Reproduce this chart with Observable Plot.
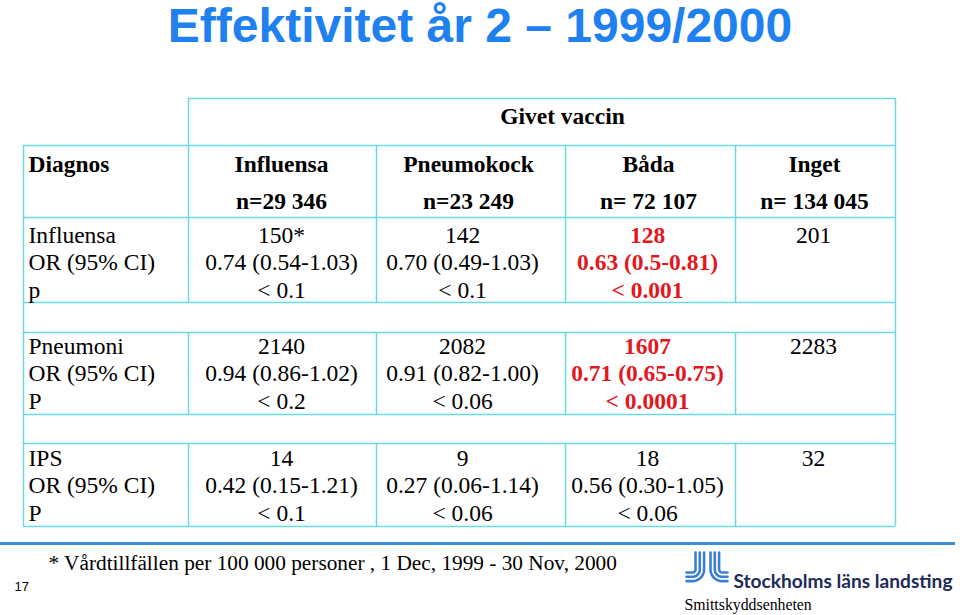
<!DOCTYPE html>
<html><head><meta charset="utf-8">
<script src="https://cdn.jsdelivr.net/npm/d3@7"></script>
<script src="https://cdn.jsdelivr.net/npm/@observablehq/plot@0.6"></script>
<style>
html,body{margin:0;padding:0;background:#fff}
body{width:960px;height:615px;overflow:hidden}
#title{height:60px;line-height:52px;text-align:center;font-family:"Liberation Sans",Arial,sans-serif;font-weight:bold;font-size:48px;color:#1f80ef;white-space:nowrap;margin:0}
#chart svg{display:block}
</style></head><body>
<h1 id="title">Effektivitet år 2 – 1999/2000</h1>
<div id="chart"></div>
<script>
// ---- data ----
const diagnoses = ["Influensa", "Pneumoni", "IPS"];
const pLabels = ["p", "P", "P"];
const orLabel = "OR (95% CI)";
const groups = ["Influensa", "Pneumokock", "Båda", "Inget"];
const groupN = ["n=29 346", "n=23 249", "n= 72 107", "n= 134 045"];
const rates = [["150*", "142", "128", "201"], ["2140", "2082", "1607", "2283"], ["14", "9", "18", "32"]];
const oddsRatios = [["0.74 (0.54-1.03)", "0.70 (0.49-1.03)", "0.63 (0.5-0.81)", ""],
                    ["0.94 (0.86-1.02)", "0.91 (0.82-1.00)", "0.71 (0.65-0.75)", ""],
                    ["0.42 (0.15-1.21)", "0.27 (0.06-1.14)", "0.56 (0.30-1.05)", ""]];
const pValues = [["< 0.1", "< 0.1", "< 0.001", ""], ["< 0.2", "< 0.06", "< 0.0001", ""], ["< 0.1", "< 0.06", "< 0.06", ""]];
const highlighted = [[false, false, true, false], [false, false, true, false], [false, false, false, false]];
const spanHeader = "Givet vaccin";
const firstHeader = "Diagnos";
const footnote = "* Vårdtillfällen per 100 000 personer , 1 Dec, 1999 - 30 Nov, 2000";
const pageNumber = "17";
const orgName = "Stockholms läns landsting";
const unitName = "Smittskyddsenheten";

// ---- layout (page pixels) ----
const colEdges = [23, 188, 376, 565, 735, 895];
const headCenters = [281, 468, 648, 814];
const cellCenters = [281, 462, 647, 813];
const tableTop = 98, headTop = 145, headBottom = 217, tableBottom = 526;
const blockTops = [217, 332, 443], blockBottoms = [302, 414, 526];
const blockBaselines = [242, 353, 465], lineStep = 27.5;
const labelX = 28;
const serif = "Liberation Serif, Times New Roman, serif";
const sans = "Liberation Sans, Arial, sans-serif";
const gridColor = "#6dd9dc";
const red = "#e3171e";

// grid segments
const hSegs = [{y: tableTop, x1: colEdges[1], x2: colEdges[5]}];
[headTop, headBottom, ...blockBottoms, ...blockTops.slice(1)].forEach(y => hSegs.push({y, x1: colEdges[0], x2: colEdges[5]}));
const vSegs = [{x: colEdges[0], y1: headTop, y2: tableBottom}, {x: colEdges[5], y1: tableTop, y2: tableBottom},
               {x: colEdges[1], y1: tableTop, y2: headTop}];
colEdges.slice(1, 5).forEach(x => {
  vSegs.push({x, y1: headTop, y2: headBottom});
  blockTops.forEach((t, i) => vSegs.push({x, y1: t, y2: blockBottoms[i]}));
});

// texts
const headerTexts = [];
groups.forEach((g, j) => {
  headerTexts.push({text: g, x: headCenters[j], y: 171});
  headerTexts.push({text: groupN[j], x: headCenters[j], y: 208});
});
const labelTexts = [];
diagnoses.forEach((d, i) => {
  [d, orLabel, pLabels[i]].forEach((t, k) => labelTexts.push({text: t, x: labelX, y: blockBaselines[i] + k * lineStep}));
});
const cellTexts = [];
diagnoses.forEach((d, i) => groups.forEach((g, j) => {
  [rates[i][j], oddsRatios[i][j], pValues[i][j]].forEach((t, k) => {
    if (t) cellTexts.push({text: t, x: cellCenters[j], y: blockBaselines[i] + k * lineStep, hl: highlighted[i][j]});
  });
}));

// logo strokes (nested quarter arcs)
const logo = [];
const arcPts = (xv, yh, r, dir, xEnd, id) => {
  const cx = xv - dir * r, cy = yh - r;
  logo.push({id, x: xv, y: 552});
  for (let a = 0; a <= 90; a += 10) {
    const t = a * Math.PI / 180;
    logo.push({id, x: cx + dir * r * Math.cos(t), y: cy + r * Math.sin(t)});
  }
  logo.push({id, x: xEnd, y: yh});
};
[0, 1, 2].forEach(k => {
  arcPts(695 + 4.3 * k, 572 + 4.3 * k, 3 + 4.3 * k, 1, 686, "L" + k);
  arcPts(718.6 - 4.3 * k, 572 + 4.3 * k, 3 + 4.3 * k, -1, 727, "R" + k);
});

const chart = Plot.plot({
  width: 960, height: 555, margin: 0,
  x: {domain: [0, 960], range: [0, 960], axis: null},
  y: {domain: [60, 615], range: [0, 555], axis: null},
  style: {background: "#fff", overflow: "visible"},
  marks: [
    Plot.ruleY(hSegs, {y: "y", x1: "x1", x2: "x2", stroke: gridColor, strokeWidth: 1.5}),
    Plot.ruleX(vSegs, {x: "x", y1: "y1", y2: "y2", stroke: gridColor, strokeWidth: 1.5}),
    Plot.text([spanHeader], {x: [562], y: [123], text: d => d, fontFamily: serif, fontWeight: "bold", fontSize: 23.5, fill: "#000", lineAnchor: "bottom"}),
    Plot.text([firstHeader], {x: [labelX], y: [171], text: d => d, textAnchor: "start", fontFamily: serif, fontWeight: "bold", fontSize: 23.5, fill: "#000", lineAnchor: "bottom"}),
    Plot.text(headerTexts, {x: "x", y: "y", text: "text", textAnchor: "middle", fontFamily: serif, fontWeight: "bold", fontSize: 23.5, fill: "#000", lineAnchor: "bottom"}),
    Plot.text(labelTexts, {x: "x", y: "y", text: "text", textAnchor: "start", fontFamily: serif, fontSize: 23.5, fill: "#000", lineAnchor: "bottom"}),
    Plot.text(cellTexts.filter(d => !d.hl), {x: "x", y: "y", text: "text", fontFamily: serif, fontSize: 23.5, fill: "#000", lineAnchor: "bottom"}),
    Plot.text(cellTexts.filter(d => d.hl), {x: "x", y: "y", text: "text", fontFamily: serif, fontWeight: "bold", fontSize: 23.5, fill: red, lineAnchor: "bottom"}),
    Plot.ruleY([543], {x1: 0, x2: 955, stroke: "#3a8fdb", strokeWidth: 3}),
    Plot.text([footnote], {x: [48], y: [569], text: d => d, textAnchor: "start", fontFamily: serif, fontSize: 21.3, fill: "#000", lineAnchor: "bottom"}),
    Plot.text([pageNumber], {x: [14], y: [590], text: d => d, textAnchor: "start", fontFamily: sans, fontSize: 13, fill: "#000", lineAnchor: "bottom"}),
    Plot.line(logo, {x: "x", y: "y", z: "id", stroke: "#3a7fd0", strokeWidth: 2.6, curve: "linear"}),
    Plot.text([orgName], {x: [733], y: [587], text: d => d, textAnchor: "start", fontFamily: "Lato, sans-serif", fontWeight: "bold", fontSize: 19, fill: "#1b2b5a", lineAnchor: "bottom", className: "orgname"}),
    Plot.text([unitName], {x: [684], y: [609], text: d => d, textAnchor: "start", fontFamily: serif, fontSize: 15.8, fill: "#000", lineAnchor: "bottom"})
  ]
});
// fit the organisation name to the logo's width
d3.select(chart).selectAll(".orgname text").attr("textLength", 219).attr("lengthAdjust", "spacingAndGlyphs");
document.getElementById("chart").appendChild(chart);
</script>
</body></html>
